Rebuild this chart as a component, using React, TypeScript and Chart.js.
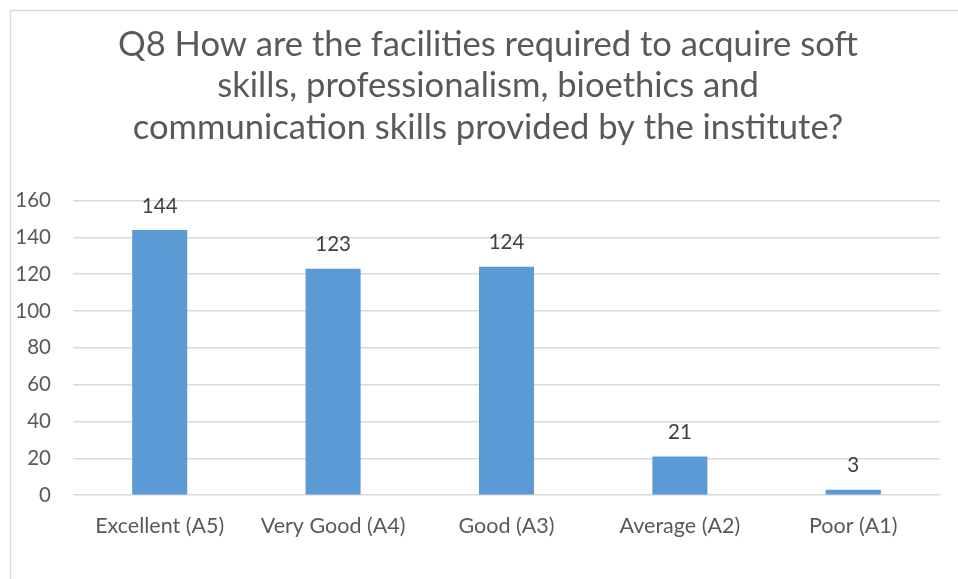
import React, { useEffect, useRef } from "react";
import { Chart, registerables } from "chart.js";

Chart.register(...registerables);

const categories = ["Excellent (A5)", "Very Good (A4)", "Good (A3)", "Average (A2)", "Poor (A1)"];
const responses = [144, 123, 124, 21, 3];
const titleLines = [
  "Q8 How are the facilities required to acquire soft",
  "skills, professionalism, bioethics and",
  "communication skills provided by the institute?",
];
const yMin = 0;
const yMax = 160;
const yStep = 20;

const FONT = "Lato, 'Open Sans', sans-serif";

const framePlugin = {
  id: "frame",
  beforeDraw(chart: any) {
    const ctx = chart.ctx;
    ctx.save();
    ctx.fillStyle = "#ffffff";
    ctx.fillRect(0, 0, chart.width, chart.height);
    ctx.strokeStyle = "#d9d9d9";
    ctx.lineWidth = 1.5;
    ctx.strokeRect(10.5, 10.5, chart.width + 20, chart.height + 20);
    ctx.restore();
  },
  afterLayout(chart: any) {
    const tb = chart.titleBlock;
    if (tb) {
      tb.left += 18;
      tb.right += 18;
    }
  },
};

const labelPlugin = {
  id: "valueLabels",
  afterDatasetsDraw(chart: any) {
    const ctx = chart.ctx;
    const meta = chart.getDatasetMeta(0);
    ctx.save();
    ctx.font = `20.5px ${FONT}`;
    ctx.fillStyle = "#404040";
    ctx.textAlign = "center";
    ctx.textBaseline = "middle";
    meta.data.forEach((bar: any, i: number) => {
      ctx.fillText(String(chart.data.datasets[0].data[i]), bar.x, bar.y - 24);
    });
    ctx.restore();
  },
};

export default function App() {
  const ref = useRef<HTMLCanvasElement | null>(null);
  useEffect(() => {
    if (!ref.current) return;
    const chart = new Chart(ref.current, {
      type: "bar",
      data: {
        labels: categories,
        datasets: [
          {
            data: responses,
            backgroundColor: "#5b9bd5",
            barPercentage: 0.635,
            categoryPercentage: 0.5,
          },
        ],
      },
      options: {
        animation: false,
        responsive: false,
        layout: { padding: { top: 14, right: 18, bottom: 30, left: 0 } },
        plugins: {
          legend: { display: false },
          tooltip: { enabled: false },
          title: {
            display: true,
            text: titleLines,
            color: "#595959",
            font: { family: FONT, size: 34.6, weight: "normal", lineHeight: "41.5px" },
            padding: { top: 10, bottom: 52 },
          },
        },
        scales: {
          x: {
            grid: { display: false },
            border: { display: false },
            ticks: { color: "#595959", font: { family: FONT, size: 21.5 }, padding: 10, maxRotation: 0 },
          },
          y: {
            min: yMin,
            max: yMax,
            grid: { color: "#d9d9d9", lineWidth: 1.5, drawTicks: false },
            border: { display: false },
            ticks: {
              stepSize: yStep,
              color: "#595959",
              font: { family: FONT, size: 20.5 },
              padding: 22,
            },
            afterFit(scale: any) {
              scale.width = 73;
            },
          },
        },
      },
      plugins: [framePlugin, labelPlugin],
    });
    return () => chart.destroy();
  }, []);
  return (
    <canvas
      ref={ref}
      width={958}
      height={579}
      style={{ position: "fixed", left: 0, top: 0, width: 958, height: 579 }}
    />
  );
}
